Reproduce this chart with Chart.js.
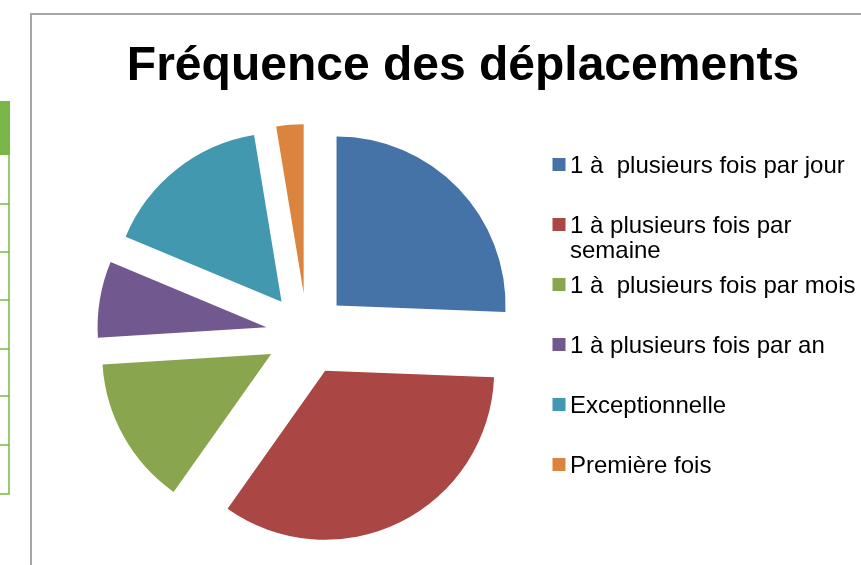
<!DOCTYPE html>
<html lang="fr">
<head>
<meta charset="utf-8">
<title>Fréquence des déplacements</title>
<script src="https://cdn.jsdelivr.net/npm/chart.js@4.4.1/dist/chart.umd.min.js"></script>
<style>
  html, body { margin: 0; padding: 0; background: #fff; }
  #wrap { position: relative; width: 861px; height: 565px; }
</style>
</head>
<body>
<div id="wrap"><canvas id="freqChart"></canvas></div>
<script>
const chartTitle = 'Fréquence des déplacements';
const categories = [
  '1 à  plusieurs fois par jour',
  '1 à plusieurs fois par semaine',
  '1 à  plusieurs fois par mois',
  '1 à plusieurs fois par an',
  'Exceptionnelle',
  'Première fois'
];
const shares = [25.6, 34.2, 14.2, 7.3, 16.1, 2.6];
const colors = ['#4572A7', '#AA4643', '#89A54E', '#71588F', '#4198AF', '#DB843D'];

const RADIUS = 169;
const EXPLODE = 41;
const FONT = '"Liberation Sans", Arial, sans-serif';

// exploded pie: push each arc out along its own mid angle
// (the built-in offset also trims the angle of thin slices)
const explode = {
  id: 'explode',
  afterDatasetUpdate(chart, args) {
    args.meta.data.forEach(arc => {
      const mid = (arc.startAngle + arc.endAngle) / 2;
      arc.x += Math.cos(mid) * EXPLODE;
      arc.y += Math.sin(mid) * EXPLODE;
    });
  }
};

// frame of the chart + the spreadsheet table sticking out on the left
const backdrop = {
  id: 'backdrop',
  beforeDraw(chart) {
    const ctx = chart.ctx;
    ctx.save();
    ctx.fillStyle = '#7AB648';
    ctx.fillRect(0, 101, 10, 54);
    ctx.strokeStyle = '#7AB648';
    ctx.lineWidth = 1.5;
    ctx.beginPath();
    ctx.moveTo(9, 101);
    ctx.lineTo(9, 494);
    [204, 252, 300, 349, 396, 445, 494].forEach(y => {
      ctx.moveTo(0, y);
      ctx.lineTo(9.75, y);
    });
    ctx.stroke();

    ctx.strokeStyle = '#A6A6A6';
    ctx.lineWidth = 2;
    ctx.beginPath();
    ctx.moveTo(31, 565);
    ctx.lineTo(31, 14);
    ctx.lineTo(861, 14);
    ctx.stroke();
    ctx.restore();
  }
};

function wrapText(ctx, text, maxWidth) {
  const words = text.split(' ');
  const lines = [];
  let line = '';
  words.forEach(w => {
    const test = line === '' ? w : line + ' ' + w;
    if (line !== '' && w !== '' && ctx.measureText(test).width > maxWidth) {
      lines.push(line);
      line = w;
    } else {
      line = test;
    }
  });
  lines.push(line);
  return lines;
}

// title and the legend on the right
const annotations = {
  id: 'annotations',
  afterDraw(chart) {
    const ctx = chart.ctx;
    ctx.save();
    ctx.fillStyle = '#000';
    ctx.textBaseline = 'alphabetic';
    ctx.font = 'bold 48px ' + FONT;
    ctx.textAlign = 'center';
    ctx.fillText(chartTitle, 463, 79.5);

    ctx.textAlign = 'left';
    ctx.font = '24px ' + FONT;
    const ds = chart.data.datasets[0];
    chart.data.labels.forEach((label, i) => {
      const base = 172.5 + 60 * i;
      ctx.fillStyle = ds.backgroundColor[i];
      ctx.fillRect(552.5, base - 14.5, 13, 13);
      ctx.fillStyle = '#000';
      wrapText(ctx, label, 292).forEach((ln, k) => {
        ctx.fillText(ln, 570, base + 25.5 * k);
      });
    });
    ctx.restore();
  }
};

new Chart(document.getElementById('freqChart'), {
  type: 'pie',
  data: {
    labels: categories,
    datasets: [{
      data: shares,
      backgroundColor: colors,
      borderWidth: 0,
      radius: RADIUS,
      offset: 0,
      hoverOffset: 0
    }]
  },
  options: {
    responsive: true,
    maintainAspectRatio: false,
    animation: false,
    layout: { padding: { left: 30, right: 277, top: 111, bottom: 8 } },
    plugins: {
      legend: { display: false },
      title: { display: false },
      tooltip: { enabled: false }
    }
  },
  plugins: [backdrop, explode, annotations]
});
</script>
</body>
</html>
